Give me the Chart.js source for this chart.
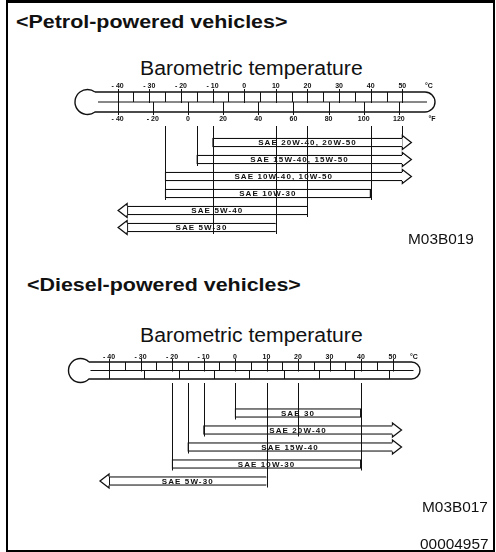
<!DOCTYPE html>
<html>
<head>
<meta charset="utf-8">
<script src="https://cdn.jsdelivr.net/npm/chart.js@4.4.0/dist/chart.umd.min.js"></script>
<style>
  html, body { margin: 0; padding: 0; background: #fff; }
  #page { position: relative; width: 496px; height: 552px; overflow: hidden; font-family: "Liberation Sans", Arial, sans-serif; color: #111; }
  #frame { position: absolute; left: 6px; top: 0; width: 485px; height: 547px; border: 2px solid #000; border-top-width: 3px; }
  .txt { position: absolute; white-space: nowrap; line-height: 1; transform-origin: left top; }
  .head { font-weight: bold; font-size: 18px; transform: scaleX(1.19); }
  .title { font-size: 20px; transform: scaleX(1.06); }
  .code { font-size: 14px; transform: scaleX(1.1); }
  canvas { position: absolute; left: 0; }
</style>
</head>
<body>
<div id="page">
  <div id="frame"></div>
  <div class="txt head" style="left:16px; top:13px">&lt;Petrol-powered vehicles&gt;</div>
  <div class="txt title" style="left:140px; top:58px">Barometric temperature</div>
  <canvas id="petrol-chart" width="496" height="160" style="top:80px"></canvas>
  <div class="txt code" style="left:408px; top:232px">M03B019</div>

  <div class="txt head" style="left:27px; top:276px">&lt;Diesel-powered vehicles&gt;</div>
  <div class="txt title" style="left:140px; top:325px">Barometric temperature</div>
  <canvas id="diesel-chart" width="496" height="160" style="top:340px"></canvas>
  <div class="txt code" style="left:422px; top:500px">M03B017</div>
  <div class="txt code" style="left:420px; top:537px">00004957</div>
</div>

<script>
  // ------------------------------------------------------
  // @Data
  // ------------------------------------------------------

  const celsiusTicks    = [-40, -30, -20, -10, 0, 10, 20, 30, 40, 50];
  const fahrenheitTicks = [-40, -20, 0, 20, 40, 60, 80, 100, 120];

  const petrolGrades   = ['SAE 20W-40, 20W-50', 'SAE 15W-40, 15W-50', 'SAE 10W-40, 10W-50', 'SAE 10W-30', 'SAE 5W-40', 'SAE 5W-30'];
  const petrolFrom     = [-10, -15, -25, -25, -37, -37];
  const petrolTo       = [50, 50, 50, 40, 20, 10];
  const petrolOpenFrom = [false, false, false, false, true, true];
  const petrolOpenTo   = [true, true, true, false, false, false];
  // [temperature, last bar the line reaches]
  const petrolGuides   = [[-25, 3], [-15, 1], [-10, 5], [10, 5], [20, 4], [40, 3], [50, 0]];

  const dieselGrades   = ['SAE 30', 'SAE 20W-40', 'SAE 15W-40', 'SAE 10W-30', 'SAE 5W-30'];
  const dieselFrom     = [0, -10, -15, -20, -40];
  const dieselTo       = [40, 50, 50, 40, 10];
  const dieselOpenFrom = [false, false, false, false, true];
  const dieselOpenTo   = [false, true, true, false, false];
  const dieselGuides   = [[-20, 3], [-15, 2], [-10, 1], [0, 0], [10, 4], [20, 1], [40, 3]];

  const INK = '#111';
  const tickFmt = t => (t < 0 ? '- ' + Math.abs(t) : String(t));

  // ------------------------------------------------------
  // @Thermometer (drawn on the x scale)
  // ------------------------------------------------------

  const thermometer = {
    id: 'thermometer',
    beforeDatasetsDraw(chart, args, o) {
      const { ctx } = chart;
      const x = chart.scales.x;
      const top = o.cy - o.h;
      const bot = o.cy + o.h;
      const a = Math.asin(o.h / o.r);
      const neck = o.bx + o.r * Math.cos(a);

      ctx.save();
      ctx.strokeStyle = INK;
      ctx.lineWidth = 1.4;
      ctx.beginPath();
      ctx.moveTo(neck, top);
      ctx.lineTo(o.endX - o.h, top);
      ctx.arc(o.endX - o.h, o.cy, o.h, -Math.PI / 2, Math.PI / 2);
      ctx.lineTo(neck, bot);
      ctx.arc(o.bx, o.cy, o.r, a, 2 * Math.PI - a);
      ctx.stroke();

      ctx.lineWidth = 1;
      ctx.beginPath();
      ctx.moveTo(o.bx + o.r - 2, o.cy);
      ctx.lineTo(o.endX - o.h + 2, o.cy);
      ctx.stroke();

      // upper row: celsius cells
      celsiusTicks.forEach((t, i) => {
        const px = Math.round(x.getPixelForValue(t)) + 0.5;
        ctx.beginPath();
        ctx.moveTo(px, top - 3);
        ctx.lineTo(px, o.cy + 1);
        ctx.stroke();
        if (i < celsiusTicks.length - 1) {
          const mx = Math.round(x.getPixelForValue((t + celsiusTicks[i + 1]) / 2)) + 0.5;
          ctx.beginPath();
          ctx.moveTo(mx, top);
          ctx.lineTo(mx, o.cy);
          ctx.stroke();
        }
      });

      // lower row: fahrenheit cells
      fahrenheitTicks.forEach(f => {
        const px = Math.round(x.getPixelForValue((f - 32) * 5 / 9)) + 0.5;
        ctx.beginPath();
        ctx.moveTo(px, o.cy);
        ctx.lineTo(px, bot + (o.showF ? 3 : 0));
        ctx.stroke();
      });

      ctx.fillStyle = INK;
      ctx.font = 'bold 7px "Liberation Sans", Arial, sans-serif';
      ctx.textAlign = 'center';
      ctx.textBaseline = 'middle';
      celsiusTicks.forEach(t => ctx.fillText(tickFmt(t), x.getPixelForValue(t), o.labelTop));
      ctx.fillText('°C', o.endX - 6, o.labelTop);
      if (o.showF) {
        fahrenheitTicks.forEach(f => ctx.fillText(tickFmt(f), x.getPixelForValue((f - 32) * 5 / 9), o.labelBottom));
        ctx.fillText('°F', o.endX - 3, o.labelBottom);
      }
      ctx.restore();
    },
  };

  // ------------------------------------------------------
  // @Guide lines, arrow heads and grade labels
  // ------------------------------------------------------

  const saeBars = {
    id: 'sae',
    afterDatasetsDraw(chart, args, o) {
      const { ctx } = chart;
      const x = chart.scales.x;
      const bars = chart.getDatasetMeta(0).data;

      ctx.save();
      ctx.strokeStyle = INK;
      ctx.lineWidth = 1;
      o.guides.forEach(([t, idx]) => {
        const px = Math.round(x.getPixelForValue(t)) + 0.5;
        const b = bars[idx];
        ctx.beginPath();
        ctx.moveTo(px, o.guideTop);
        ctx.lineTo(px, b.y + b.height / 2 + 2);
        ctx.stroke();
      });

      ctx.lineWidth = 1.3;
      bars.forEach((b, i) => {
        const top = b.y - b.height / 2;
        const bot = b.y + b.height / 2;
        const heads = [];
        if (o.openTo[i]) heads.push({ x0: Math.max(b.x, b.base), dir: 1 });
        if (o.openFrom[i]) heads.push({ x0: Math.min(b.x, b.base), dir: -1 });
        heads.forEach(({ x0, dir }) => {
          ctx.beginPath();
          ctx.moveTo(x0, top);
          ctx.lineTo(x0, b.y - o.headHalf);
          ctx.lineTo(x0 + dir * o.headLen, b.y);
          ctx.lineTo(x0, b.y + o.headHalf);
          ctx.lineTo(x0, bot);
          ctx.fillStyle = '#fff';
          ctx.fill();
          ctx.stroke();
        });
      });

      ctx.fillStyle = INK;
      ctx.font = 'bold 8px "Liberation Sans", Arial, sans-serif';
      ctx.letterSpacing = '1.1px';
      ctx.textAlign = 'center';
      ctx.textBaseline = 'middle';
      bars.forEach((b, i) => {
        ctx.fillText(chart.data.labels[i], (b.x + b.base) / 2, b.y + 0.5);
      });
      ctx.restore();
    },
  };

  // ------------------------------------------------------
  // @Charts
  // ------------------------------------------------------

  function saeChart(id, grades, from, to, openFrom, openTo, guides, padding, thermo) {
    const box = document.getElementById(id);
    if (!box) return null;

    return new Chart(box.getContext('2d'), {
      type: 'bar',
      data: {
        labels: grades,
        datasets: [{
          data            : grades.map((g, i) => [from[i], to[i]]),
          backgroundColor : '#fff',
          borderColor     : INK,
          borderWidth     : 1.3,
          borderSkipped   : c => (openTo[c.dataIndex] ? 'right' : openFrom[c.dataIndex] ? 'left' : false),
          barThickness    : 9,
        }],
      },
      options: {
        indexAxis: 'y',
        responsive: false,
        animation: false,
        devicePixelRatio: 1,
        layout: { padding },
        scales: {
          x: { type: 'linear', min: -50, max: 60, display: false },
          y: { display: false },
        },
        plugins: {
          legend: { display: false },
          tooltip: { enabled: false },
          thermometer: thermo,
          sae: { openFrom, openTo, guides, guideTop: thermo.guideTop, headLen: 9, headHalf: 7 },
        },
      },
      plugins: [thermometer, saeBars],
    });
  }

  saeChart('petrol-chart', petrolGrades, petrolFrom, petrolTo, petrolOpenFrom, petrolOpenTo, petrolGuides,
    { top: 54, bottom: 4, left: 86, right: 62 },
    { cy: 22, h: 10, bx: 87.5, r: 12.5, endX: 435, labelTop: 6.5, labelBottom: 39, guideTop: 46, showF: true });

  saeChart('diesel-chart', dieselGrades, dieselFrom, dieselTo, dieselOpenFrom, dieselOpenTo, dieselGuides,
    { top: 64.5, bottom: 10.5, left: 77.5, right: 72 },
    { cy: 30.5, h: 8.5, bx: 80.5, r: 12, endX: 420, labelTop: 17, guideTop: 43, showF: false });
</script>
</body>
</html>
